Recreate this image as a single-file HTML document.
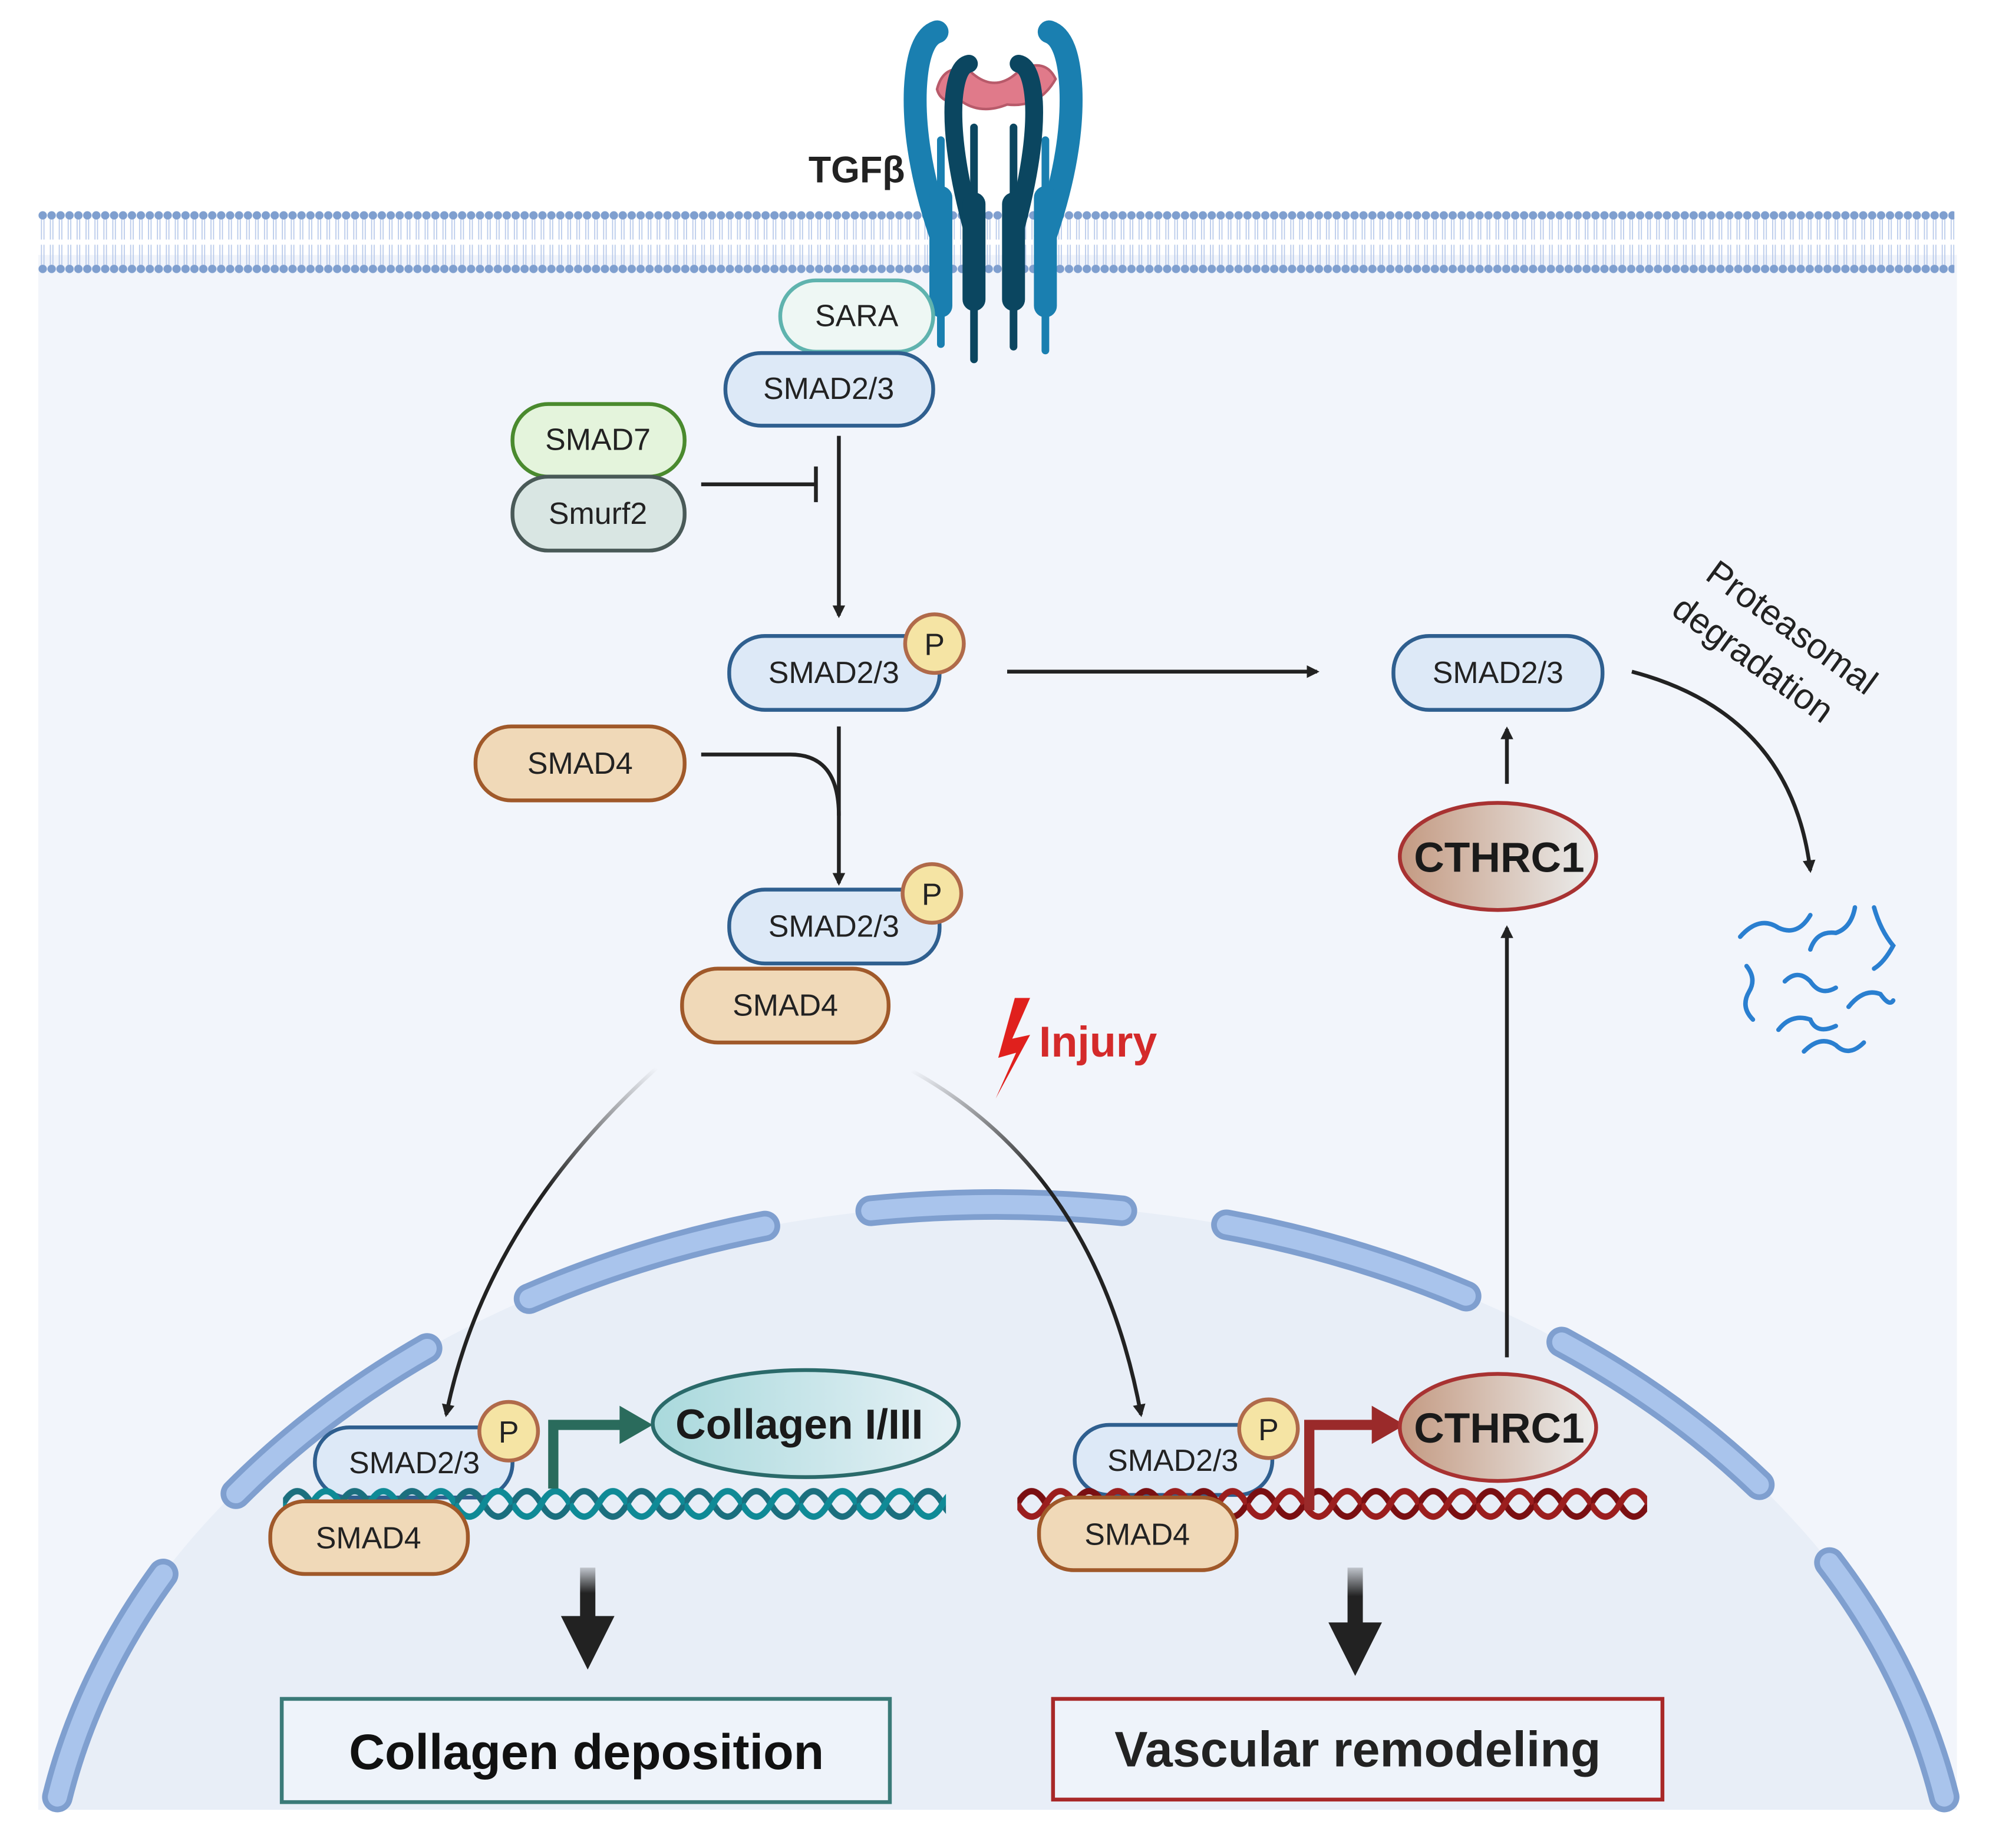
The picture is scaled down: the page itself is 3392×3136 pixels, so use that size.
<!DOCTYPE html>
<html><head><meta charset="utf-8"><style>html,body{margin:0;padding:0;background:#fff;overflow:hidden;width:3392px;height:3136px}svg{display:block}text{font-family:"Liberation Sans",sans-serif}</style></head>
<body>
<svg width="3392" height="3136" viewBox="0 0 1568 1450" preserveAspectRatio="none" xmlns="http://www.w3.org/2000/svg">
<defs>
<pattern id="mem" patternUnits="userSpaceOnUse" x="30" y="160" width="7" height="60">
<circle cx="3.5" cy="9" r="3.3" fill="#7f9fcf"/><circle cx="3.5" cy="51" r="3.3" fill="#7f9fcf"/>
<path d="M2.5 12 V28 M4.5 12 V28 M2.5 32 V48 M4.5 32 V48" stroke="#b7c9ea" stroke-width="0.8"/>
</pattern>
<pattern id="dnaT" patternUnits="userSpaceOnUse" x="222" y="1160" width="45" height="40">
<path d="M0 20 Q11.25 0 22.5 20 T45 20" fill="none" stroke="#1b6f7e" stroke-width="5"/>
<path d="M0 20 Q11.25 40 22.5 20 T45 20" fill="none" stroke="#0f8a96" stroke-width="5"/>
</pattern>
<pattern id="dnaR" patternUnits="userSpaceOnUse" x="798" y="1160" width="45" height="40">
<path d="M0 20 Q11.25 0 22.5 20 T45 20" fill="none" stroke="#7a0f12" stroke-width="5"/>
<path d="M0 20 Q11.25 40 22.5 20 T45 20" fill="none" stroke="#9b1e1e" stroke-width="5"/>
</pattern>
<linearGradient id="cth" x1="0" x2="1"><stop offset="0" stop-color="#c49a82"/><stop offset="1" stop-color="#eceeee"/></linearGradient>
<linearGradient id="col" x1="0" x2="1"><stop offset="0" stop-color="#a9d9dc"/><stop offset="1" stop-color="#e6f1f6"/></linearGradient>
<linearGradient id="fadeL" x1="515" y1="838" x2="350" y2="1110" gradientUnits="userSpaceOnUse"><stop offset="0" stop-color="#222" stop-opacity="0"/><stop offset="0.4" stop-color="#222"/></linearGradient>
<linearGradient id="fadeR" x1="715" y1="840" x2="895" y2="1110" gradientUnits="userSpaceOnUse"><stop offset="0" stop-color="#222" stop-opacity="0"/><stop offset="0.4" stop-color="#222"/></linearGradient>
<linearGradient id="fadeD" x1="0" y1="0" x2="0" y2="1"><stop offset="0" stop-color="#222" stop-opacity="0.2"/><stop offset="0.5" stop-color="#222"/></linearGradient>
<marker id="ah" markerWidth="10" markerHeight="10" refX="8" refY="5" orient="auto" markerUnits="userSpaceOnUse"><path d="M0 0 L10 5 L0 10 Z" fill="#222"/></marker>
<clipPath id="cell"><rect x="30" y="200" width="1505" height="1220"/></clipPath>
</defs>
<rect x="30" y="200" width="1505" height="1220" fill="#f2f5fb"/>
<path clip-path="url(#cell)" d="M25 1528 A760 583 0 0 1 1545 1528 Z" fill="#e8eef7"/>
<rect x="30" y="160" width="1503" height="60" fill="url(#mem)"/>
<g fill="none" stroke-linecap="round">
<g stroke="#7f9fcf" stroke-width="24">
<path d="M45 1410 A760 583 0 0 1 128 1235"/><path d="M185 1172 A760 583 0 0 1 335 1058"/><path d="M415 1019 A760 583 0 0 1 600 962"/><path d="M683 950 A760 583 0 0 1 880 950"/><path d="M962 961 A760 583 0 0 1 1150 1017"/><path d="M1225 1053 A760 583 0 0 1 1380 1165"/><path d="M1435 1226 A760 583 0 0 1 1525 1410"/>
</g>
<g stroke="#a9c4ec" stroke-width="15">
<path d="M45 1410 A760 583 0 0 1 128 1235"/><path d="M185 1172 A760 583 0 0 1 335 1058"/><path d="M415 1019 A760 583 0 0 1 600 962"/><path d="M683 950 A760 583 0 0 1 880 950"/><path d="M962 961 A760 583 0 0 1 1150 1017"/><path d="M1225 1053 A760 583 0 0 1 1380 1165"/><path d="M1435 1226 A760 583 0 0 1 1525 1410"/>
</g>
</g>
<!-- receptor -->
<g fill="none" stroke-linecap="round">
<path d="M738 270 V110" stroke="#1a7fb0" stroke-width="6"/>
<path d="M820 275 V110" stroke="#1a7fb0" stroke-width="6"/>
<path d="M738 185 Q716 120 718 70 Q720 30 735 25" stroke="#1a7fb0" stroke-width="18"/>
<path d="M820 185 Q842 120 840 70 Q838 30 823 25" stroke="#1a7fb0" stroke-width="18"/>
</g>
<path d="M735 70 Q740 50 760 55 Q780 75 800 55 Q820 45 828 62 Q815 85 790 82 Q770 90 755 80 Q738 82 735 70 Z" fill="#e07a8a" stroke="#b85a6a" stroke-width="2"/>
<g fill="none" stroke-linecap="round">
<path d="M764 282 V100" stroke="#0b4660" stroke-width="6"/>
<path d="M795 272 V100" stroke="#0b4660" stroke-width="6"/>
<path d="M764 185 Q746 120 748 80 Q750 52 760 50" stroke="#0b4660" stroke-width="14"/>
<path d="M795 185 Q813 120 811 80 Q809 52 799 50" stroke="#0b4660" stroke-width="14"/>
<path d="M738 155 V240" stroke="#1a7fb0" stroke-width="18"/>
<path d="M820 155 V240" stroke="#1a7fb0" stroke-width="18"/>
<path d="M764 160 V235" stroke="#0b4660" stroke-width="18"/>
<path d="M795 160 V235" stroke="#0b4660" stroke-width="18"/>
</g>
<text x="672" y="143" font-size="29" font-weight="bold" text-anchor="middle" fill="#222">TGFβ</text>
<g font-size="24" text-anchor="middle" fill="#222" stroke-width="3">
<rect x="612" y="220" width="120" height="56" rx="28" fill="#eef7f4" stroke="#5fb3ae"/><text x="672" y="256">SARA</text>
<rect x="569" y="277" width="163" height="57" rx="28" fill="#dde9f7" stroke="#2f5f8f"/><text x="650" y="313">SMAD2/3</text>
<rect x="402" y="317" width="135" height="57" rx="28" fill="#e4f4dc" stroke="#4a8a2e"/><text x="469" y="353">SMAD7</text>
<rect x="402" y="374" width="135" height="58" rx="28" fill="#d9e6e3" stroke="#4a5a58"/><text x="469" y="411">Smurf2</text>
<rect x="572" y="499" width="165" height="58" rx="28" fill="#dde9f7" stroke="#2f5f8f"/><text x="654" y="536">SMAD2/3</text>
<circle cx="733" cy="505" r="23" fill="#f5e4a4" stroke="#b06a4a"/><text x="733" y="514">P</text>
<rect x="1093" y="499" width="164" height="58" rx="28" fill="#dde9f7" stroke="#2f5f8f"/><text x="1175" y="536">SMAD2/3</text>
<rect x="373" y="570" width="164" height="58" rx="28" fill="#f0d9b8" stroke="#a0592a"/><text x="455" y="607">SMAD4</text>
<rect x="572" y="698" width="165" height="58" rx="28" fill="#dde9f7" stroke="#2f5f8f"/><text x="654" y="735">SMAD2/3</text>
<circle cx="731" cy="701" r="23" fill="#f5e4a4" stroke="#b06a4a"/><text x="731" y="710">P</text>
<rect x="535" y="760" width="162" height="58" rx="28" fill="#f0d9b8" stroke="#a0592a"/><text x="616" y="797">SMAD4</text>
<rect x="247" y="1120" width="155" height="55" rx="27" fill="#dde9f7" stroke="#2f5f8f"/><text x="325" y="1156">SMAD2/3</text>
<rect x="843" y="1118" width="155" height="55" rx="27" fill="#dde9f7" stroke="#2f5f8f"/><text x="920" y="1154">SMAD2/3</text>
</g>
<rect x="222" y="1160" width="520" height="40" fill="url(#dnaT)"/>
<rect x="798" y="1160" width="494" height="40" fill="url(#dnaR)"/>
<g font-size="24" text-anchor="middle" fill="#222" stroke-width="3">
<rect x="212" y="1178" width="155" height="57" rx="27" fill="#f0d9b8" stroke="#a0592a"/><text x="289" y="1215">SMAD4</text>
<rect x="815" y="1175" width="155" height="57" rx="27" fill="#f0d9b8" stroke="#a0592a"/><text x="892" y="1212">SMAD4</text>
<circle cx="399" cy="1123" r="23" fill="#f5e4a4" stroke="#b06a4a"/><text x="399" y="1132">P</text>
<circle cx="995" cy="1121" r="23" fill="#f5e4a4" stroke="#b06a4a"/><text x="995" y="1130">P</text>
</g>
<g fill="none" stroke="#222" stroke-width="3">
<path d="M550 380 H640 M640 366 V394"/>
<path d="M658 342 V483" marker-end="url(#ah)"/>
<path d="M790 527 H1033" marker-end="url(#ah)"/>
<path d="M658 570 V693" marker-end="url(#ah)"/>
<path d="M550 592 H620 Q658 592 658 640"/>
<path d="M1182 1065 V728" marker-end="url(#ah)"/>
<path d="M1182 615 V572" marker-end="url(#ah)"/>
<path d="M1280 527 Q1405 560 1420 683" marker-end="url(#ah)"/>
<path d="M515 838 Q380 960 350 1110" stroke="url(#fadeL)" marker-end="url(#ah)"/>
<path d="M715 840 Q860 920 895 1110" stroke="url(#fadeR)" marker-end="url(#ah)"/>
</g>
<path d="M434 1168 V1118 H490" fill="none" stroke="#2a6b5c" stroke-width="8"/>
<path d="M486 1103 L512 1118 L486 1133 Z" fill="#2a6b5c"/>
<path d="M1027 1185 V1118 H1080" fill="none" stroke="#9a2a2a" stroke-width="8"/>
<path d="M1076 1103 L1102 1118 L1076 1133 Z" fill="#9a2a2a"/>
<ellipse cx="632" cy="1117" rx="120" ry="42" fill="url(#col)" stroke="#2a6a6a" stroke-width="3"/>
<text x="627" y="1129" font-size="33" font-weight="bold" text-anchor="middle" fill="#1a1a1a">Collagen I/III</text>
<ellipse cx="1175" cy="1120" rx="77" ry="42" fill="url(#cth)" stroke="#a83232" stroke-width="3"/>
<text x="1176" y="1132" font-size="33" font-weight="bold" text-anchor="middle" fill="#1a1a1a">CTHRC1</text>
<ellipse cx="1175" cy="672" rx="77" ry="42" fill="url(#cth)" stroke="#a83232" stroke-width="3"/>
<text x="1176" y="684" font-size="33" font-weight="bold" text-anchor="middle" fill="#1a1a1a">CTHRC1</text>
<rect x="455" y="1230" width="12" height="40" fill="url(#fadeD)"/>
<path d="M440 1268 H482 L461 1310 Z" fill="#222"/>
<rect x="1057" y="1230" width="12" height="45" fill="url(#fadeD)"/>
<path d="M1042 1273 H1084 L1063 1315 Z" fill="#222"/>
<rect x="221" y="1333" width="477" height="81" fill="#eef3fa" stroke="#3a7a78" stroke-width="3"/>
<text x="460" y="1388" font-size="39" font-weight="bold" text-anchor="middle" fill="#111">Collagen deposition</text>
<rect x="826" y="1333" width="478" height="79" fill="#eef3fa" stroke="#a82828" stroke-width="3"/>
<text x="1065" y="1386" font-size="39" font-weight="bold" text-anchor="middle" fill="#222">Vascular remodeling</text>
<path d="M796 783 L783 830 L797 826 L781 862 L808 812 L794 815 L808 783 Z" fill="#e0201d"/>
<text x="815" y="829" font-size="34" font-weight="bold" fill="#d42a2a">Injury</text>
<g transform="translate(1400,500) rotate(36)" font-size="28" fill="#222" text-anchor="middle">
<text x="0" y="0">Proteasomal</text><text x="-10" y="38">degradation</text>
</g>
<g fill="none" stroke="#2a7fd0" stroke-width="3.5" stroke-linecap="round">
<path d="M1365 735 Q1380 718 1395 728 Q1410 735 1420 718"/>
<path d="M1420 745 Q1425 730 1440 732 Q1452 728 1455 712"/>
<path d="M1470 712 Q1475 730 1485 742 Q1478 755 1470 760"/>
<path d="M1375 800 Q1365 790 1372 778 Q1378 768 1370 758"/>
<path d="M1400 770 Q1410 760 1420 770 Q1428 782 1440 775"/>
<path d="M1395 808 Q1405 795 1420 800 Q1425 812 1440 805"/>
<path d="M1450 790 Q1462 775 1475 780 Q1482 790 1485 785"/>
<path d="M1415 825 Q1428 812 1440 820 Q1450 830 1462 818"/>
</g>
</svg>
</body></html>
